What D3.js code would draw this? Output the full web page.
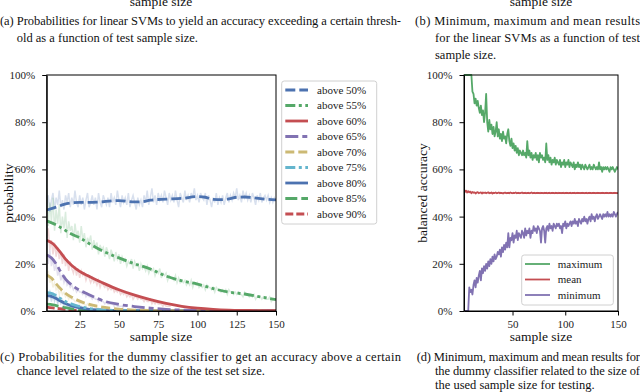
<!DOCTYPE html>
<html>
<head>
<meta charset="utf-8">
<title>SVM sample size</title>
<script src="https://d3js.org/d3.v7.min.js"></script>
<style>
  body { margin: 0; background: #fff; }
  svg text { font-family: "Liberation Serif", "Times New Roman", serif; }
  .axis text { font-size: 11px; fill: #222; font-family: "Liberation Serif", "Times New Roman", serif; }
  .axis path, .axis line { stroke: #000; stroke-width: 1; }
  .label { font-size: 13.5px; fill: #111; }
  .caption { font-size: 12.5px; fill: #111; }
  .legend text { font-size: 11px; fill: #222; }
</style>
</head>
<body>
<svg id="chart" width="640" height="392"></svg>
<script>
// ---- data ----
// sample sizes on the x axis
var sizes = d3.range(4, 151);
var yTicks = [0, 20, 40, 60, 80, 100];
var xTicksLeft = [25, 50, 75, 100, 125, 150];
var xTicksRight = [50, 100, 150];
var thresholds = ["above 50%", "above 55%", "above 60%", "above 65%", "above 70%",
                  "above 75%", "above 80%", "above 85%", "above 90%"];

// smoothed probability curves (%), each with its own sample sizes
var smX50 = [4, 10, 15, 20, 25, 30, 40, 50, 60, 65, 70, 80, 90, 100, 105, 110, 115, 120, 125, 130, 135, 140, 145, 150];
var sm50  = [42.8, 44, 45.2, 45.8, 46, 46, 46.3, 46.8, 46.2, 46.3, 47, 47.4, 47.7, 48.5, 48.2, 47.3, 47.2, 47.5, 48.2, 48.3, 48, 47.6, 47.3, 47.1];
var smX55 = [4, 10, 15, 20, 25, 30, 40, 50, 60, 70, 80, 90, 100, 110, 120, 130, 140, 150];
var sm55  = [38.2, 36.5, 34.5, 32.5, 31, 29, 25.3, 22.5, 20, 17.8, 14.8, 12.8, 11.4, 9.5, 8, 7.2, 6, 4.8];
var smX60 = [4, 8, 12, 16, 20, 25, 30, 35, 40, 50, 60, 70, 80, 90, 100, 110, 120, 130, 140, 150];
var sm60  = [30, 28.5, 25.5, 22, 19.3, 16.8, 15, 13.3, 11.8, 9, 6.7, 4.8, 3.2, 2, 1.2, 0.7, 0.4, 0.25, 0.15, 0.1];
var smX65 = [4, 7, 10, 13, 16, 20, 25, 30, 35, 40, 50, 60, 70, 80, 100, 120, 150];
var sm65  = [23.7, 22.5, 20, 16.5, 13.5, 11, 8.8, 7.2, 5.7, 4.3, 2.8, 1.9, 1.2, 0.7, 0.25, 0.1, 0.02];
var smX70 = [4, 7, 10, 13, 16, 20, 25, 30, 40, 50, 60, 80, 100, 150];
var sm70  = [15.3, 14, 11.5, 9.3, 7.5, 5.8, 4.2, 3, 1.6, 0.8, 0.4, 0.1, 0.04, 0];
var smX75 = [4, 7, 10, 13, 16, 20, 25, 30, 40, 50, 70, 100, 150];
var sm75  = [7.8, 7.5, 6.5, 5.2, 4, 2.9, 1.9, 1.2, 0.5, 0.2, 0.05, 0, 0];
var smX80 = [4, 7, 10, 13, 16, 20, 25, 30, 40, 50, 70, 100, 150];
var sm80  = [6.5, 6.2, 5.3, 4.2, 3.2, 2.2, 1.4, 0.8, 0.3, 0.1, 0.02, 0, 0];
var smX85 = [4, 8, 12, 16, 20, 25, 30, 40, 60, 100, 150];
var sm85  = [2.9, 2.6, 2, 1.4, 0.9, 0.5, 0.3, 0.1, 0, 0, 0];
var smX90 = [4, 8, 12, 16, 20, 30, 40, 60, 100, 150];
var sm90  = [1.6, 1.3, 1, 0.7, 0.4, 0.15, 0.05, 0, 0, 0];

// raw (noisy) probabilities (%), starting at sample size 4
var raw50 = [44,49,42,47,50,43,48,45,51,44, 47,43,49,46,50,44,48,45,51,46,
             44,49,45,48,43,47,50,44,46,49, 45,48,43,50,46,44,49,47,45,48,
             44,50,46,48,45,51,47,44,49,46, 48,45,50,44,47,49,46,43,48,45,
             47,44,49,46,51,45,48,52,46,49, 45,50,47,49,46,51,48,45,50,47,
             49,46,51,47,44,50,48,46,51,47, 49,46,50,48,52,47,49,46,50,48,
             47,50,45,49,47,44,48,46,50,45, 48,46,49,45,48,50,46,49,47,50,
             48,52,47,49,46,51,48,50,47,49, 46,50,48,45,49,47,50,46,48,49,
             47,49,46,48,46,48,47];
var raw55 = [52,36,46,38,48,34,43,37,45,33, 40,35,42,31,38,34,36,30,37,32,
             34,29,36,30,33,27,31,29,32,26, 30,27,29,24,28,26,27,23,27,25,
             22,26,24,21,25,22,24,20,23,21, 22,19,21,20,22,18,21,19,20,17,
             20,18,19,17,19,16,18,17,18,15, 17,16,18,14,16,15,16,13,15,14,
             14,13,15,12,14,12,13,12,13,11, 12,11,13,10,12,11,12,10,11,10,
             11,9,11,10,10,9,10,8,10,9, 9,8,9,8,9,7,9,8,8,7,
             8,7,8,7,7,6,8,7,7,6, 7,6,7,5,6,6,6,5,6,5,
             5,5,6,4,5,5,5];
var raw60 = [31,35,26,30,24,29,23,27,22,25, 20,24,19,22,17,21,18,16,19,15,
             18,14,17,15,16,13,15,14,12,14, 12,13,11,13,10,12,11,10,11,9,
             10,9,10,8,9,8,9,7,8,7, 8,6,7,6,7,5,6,6,5,6,
             5,5,4,5,4,4,5,3,4,3, 4,3,3,3,2,3,2,2,2,2];
var raw65 = [24,20,26,19,22,17,20,15,17,13, 15,12,14,11,12,10,11,9,10,8,
             9,8,8,7,8,6,7,6,6,5, 6,5,5,4,5,4,4,3,4,3,
             3,3,3,2,3,2,2,2,2,1];
var raw70 = [15,17,12,14,10,12,9,10,7,9, 7,8,6,7,5,6,5,5,4,4,
             4,3,4,3,3,2,3,2,2,2, 2,1,2,1,1,1,1,1,1,1];
var raw75 = [10,6,9,5,8,5,7,4,6,4, 5,3,4,3,3,2,3,2,2,2, 2,1,2,1,1,1,1,1,1,1];
var raw80 = [7,5,8,4,7,4,6,3,5,3, 4,2,3,2,2,2,2,1,2,1, 1,1,1,1,1,0,1,0,1,0];

// dummy classifier balanced accuracy (%), sample size 4..150
var maxAcc = [100,100,100,100,100,100,100,100,93,92, 88,90,87,89,86,84,87,83,85,80,
              84,92,80,76,81,77,79,75,78,74, 76,80,74,77,73,75,72,76,73,74,
              71,75,77,72,70,73,69,71,68,70, 67,69,66,68,67,66,68,66,67,65,
              72,66,68,65,67,64,66,65,67,64, 66,63,67,65,66,64,65,63,71,64,
              66,63,65,62,64,63,65,62,64,63, 62,64,61,63,62,64,61,63,62,64,
              61,63,62,61,63,60,62,61,63,61, 62,60,62,61,60,62,61,60,61,62,
              60,61,60,62,61,60,61,60,63,60, 61,59,61,60,61,60,61,60,59,61,
              60,61,60,59,60,61,60];
var meanAcc = [51.5,50.5,51,50.2,50.8,50.3,50.6,49.9,50.4,50.1, 50.3,49.8,50.2,50.4,49.9,50.1,50.3,49.8,50.2,50,
               50.2,49.9,50.1,50.3,49.9,50,50.2,49.8,50.1,50, 50.2,49.9,50,50.2,49.9,50.1,50,49.8,50.1,50.2,
               49.9,50,50.1,49.9,50.2,50,49.9,50.1,50,50.2, 49.9,50,50.1,49.9,50,50.2,49.9,50,50.1,49.9,
               50,50.1,49.9,50,50.2,49.9,50,50.1,49.9,50, 50.1,50,49.9,50.1,50,49.9,50.1,50,50.1,49.9,
               50,50.1,49.9,50,50.1,50,49.9,50.1,50,49.9, 50.1,50,49.9,50,50.1,49.9,50,50.1,50,49.9,
               50,50.1,49.9,50,50,50.1,49.9,50,50.1,50, 49.9,50,50.1,50,49.9,50,50.1,49.9,50,50.1,
               50,49.9,50,50.1,50,49.9,50,50.1,50,49.9, 50,50.1,50,49.9,50,50.1,50,49.9,50,50.1,
               50,49.9,50,50.1,50,49.9,50];
var minAcc = [0,0,0,0,0,10,8,9,7,11, 13,10,14,12,15,17,13,18,16,19,
              17,20,18,21,19,22,20,23,21,24, 22,23,25,24,26,23,27,25,28,26,
              29,27,33,27,31,30,33,29,32,31, 34,30,33,32,31,34,33,31,35,32,
              34,33,35,31,34,33,36,34,35,33, 36,35,34,29,35,36,34,29,35,36,
              34,37,35,36,34,37,36,35,37,36, 37,35,36,33,37,36,38,35,37,36,
              37,38,36,38,37,39,37,38,36,39, 38,37,39,38,40,38,39,37,39,40,
              38,41,39,40,38,40,41,39,40,41, 40,39,41,40,41,40,42,40,41,40,
              41,40,42,41,40,41,42];
var accNames = ["maximum", "mean", "minimum"];

// ---- styles ----
var blue = "#4C72B0", green = "#55A868", red = "#C44E52",
    purple = "#8172B2", yellow = "#CCB974", cyan = "#64B5CD";

var smooth = [
  { xs: smX50, ys: sm50, color: blue,   dash: "10,4" },
  { xs: smX55, ys: sm55, color: green,  dash: "10,3.5,3,3.5,3,3.5" },
  { xs: smX60, ys: sm60, color: red,    dash: null },
  { xs: smX65, ys: sm65, color: purple, dash: "13,4,5,4" },
  { xs: smX70, ys: sm70, color: yellow, dash: "9,4" },
  { xs: smX75, ys: sm75, color: cyan,   dash: "10,3.5,3,3.5,3,3.5" },
  { xs: smX80, ys: sm80, color: blue,   dash: null },
  { xs: smX85, ys: sm85, color: green,  dash: "12,4" },
  { xs: smX90, ys: sm90, color: red,    dash: "8,3" }
];
var raw = [
  { ys: raw50, color: blue }, { ys: raw55, color: green }, { ys: raw60, color: red },
  { ys: raw65, color: purple }, { ys: raw70, color: yellow }, { ys: raw75, color: cyan },
  { ys: raw80, color: blue }
];
var accLines = [
  { ys: maxAcc, color: green }, { ys: meanAcc, color: red }, { ys: minAcc, color: purple }
];

var svg = d3.select("#chart");
var pct = function(d) { return d + "%"; };

// ---- panel (c) ----
var xL = d3.scaleLinear().domain([4, 150]).range([46.7, 276]);
var yL = d3.scaleLinear().domain([0, 100]).range([311, 75]);

svg.append("clipPath").attr("id", "clipL")
  .append("rect").attr("x", 46.7).attr("y", 75).attr("width", 229.3).attr("height", 236);

var left = svg.append("g").attr("clip-path", "url(#clipL)");
raw.forEach(function(s) {
  left.append("path")
    .attr("d", d3.line().x(function(d, i) { return xL(sizes[i]); }).y(function(d) { return yL(d); })(s.ys))
    .attr("fill", "none").attr("stroke", s.color).attr("stroke-opacity", 0.22).attr("stroke-width", 1.5);
});
smooth.slice().reverse().forEach(function(s) {
  left.append("path")
    .attr("d", d3.line().curve(d3.curveMonotoneX)
      .x(function(d, i) { return xL(s.xs[i]); }).y(function(d) { return yL(d); })(s.ys))
    .attr("fill", "none").attr("stroke", s.color).attr("stroke-width", 2.8)
    .attr("stroke-dasharray", s.dash);
});

svg.append("g").attr("class", "axis").attr("transform", "translate(46.7,0)")
  .call(d3.axisLeft(yL).tickValues(yTicks).tickFormat(pct).tickSize(4.5).tickPadding(7).tickSizeOuter(0));
svg.append("g").attr("class", "axis").attr("transform", "translate(0,311)")
  .call(d3.axisBottom(xL).tickValues(xTicksLeft).tickSize(4.5).tickPadding(5).tickSizeOuter(0));
svg.append("rect").attr("x", 46.7).attr("y", 75).attr("width", 229.3).attr("height", 236)
  .attr("fill", "none").attr("stroke", "#000");

svg.append("text").attr("class", "label").attr("text-anchor", "middle")
  .attr("transform", "translate(12.5,193) rotate(-90)").text("probability");
svg.append("text").attr("class", "label").attr("text-anchor", "middle")
  .attr("x", 161).attr("y", 341).text("sample size");

// legend (c)
var legL = svg.append("g").attr("class", "legend");
legL.append("rect").attr("x", 281.7).attr("y", 81).attr("width", 95).attr("height", 143)
  .attr("rx", 2.5).attr("fill", "#fff").attr("stroke", "#d0d0d0");
thresholds.forEach(function(t, i) {
  var yy = 90 + i * 15.5;
  legL.append("line").attr("x1", 285.3).attr("x2", 308).attr("y1", yy).attr("y2", yy)
    .attr("stroke", smooth[i].color).attr("stroke-width", 2.8).attr("stroke-dasharray", smooth[i].dash);
  legL.append("text").attr("x", 317).attr("y", yy + 3.8).text(t);
});

// ---- panel (d) ----
var xR = d3.scaleLinear().domain([4, 150]).range([464, 618]);
var yR = d3.scaleLinear().domain([0, 100]).range([311, 75]);

svg.append("clipPath").attr("id", "clipR")
  .append("rect").attr("x", 464).attr("y", 74).attr("width", 154).attr("height", 237);
var right = svg.append("g").attr("clip-path", "url(#clipR)");
accLines.forEach(function(s) {
  right.append("path")
    .attr("d", d3.line().x(function(d, i) { return xR(sizes[i]); }).y(function(d) { return yR(d); })(s.ys))
    .attr("fill", "none").attr("stroke", s.color).attr("stroke-width", 1.8).attr("stroke-linejoin", "round");
});

svg.append("g").attr("class", "axis").attr("transform", "translate(464,0)")
  .call(d3.axisLeft(yR).tickValues(yTicks).tickFormat(pct).tickSize(4.5).tickPadding(7).tickSizeOuter(0));
svg.append("g").attr("class", "axis").attr("transform", "translate(0,311)")
  .call(d3.axisBottom(xR).tickValues(xTicksRight).tickSize(4.5).tickPadding(5).tickSizeOuter(0));
svg.append("rect").attr("x", 464).attr("y", 75).attr("width", 154).attr("height", 236)
  .attr("fill", "none").attr("stroke", "#000");

svg.append("text").attr("class", "label").attr("text-anchor", "middle")
  .attr("transform", "translate(427,193) rotate(-90)").text("balanced accuracy");
svg.append("text").attr("class", "label").attr("text-anchor", "middle")
  .attr("x", 541).attr("y", 341).text("sample size");

// legend (d)
var legR = svg.append("g").attr("class", "legend");
legR.append("rect").attr("x", 521.7).attr("y", 255).attr("width", 91.6).attr("height", 50)
  .attr("rx", 2.5).attr("fill", "#fff").attr("stroke", "#d0d0d0");
accNames.forEach(function(t, i) {
  var yy = 264 + i * 15.5;
  legR.append("line").attr("x1", 525).attr("x2", 550).attr("y1", yy).attr("y2", yy)
    .attr("stroke", accLines[i].color).attr("stroke-width", 1.8);
  legR.append("text").attr("x", 557.7).attr("y", yy + 3.8).text(t);
});

// ---- captions ----
// x-axis labels of the panels above, partly cut off by the page edge as in the source
svg.append("text").attr("class", "label").attr("text-anchor", "middle").attr("x", 161).attr("y", 6).text("sample size");
svg.append("text").attr("class", "label").attr("text-anchor", "middle").attr("x", 541).attr("y", 6).text("sample size");

var captions = [
  { x: 0,     y: 24.5,  text: "(a) Probabilities for linear SVMs to yield an accuracy exceeding a certain thresh-", w: 401 },
  { x: 16.7,  y: 41.5,  text: "old as a function of test sample size." },
  { x: 415,   y: 24.5,  text: "(b) Minimum, maximum and mean results", w: 225 },
  { x: 435,   y: 41.5,  text: "for the linear SVMs as a function of test", w: 205 },
  { x: 435,   y: 58.5,  text: "sample size." },
  { x: 0,     y: 360.5, text: "(c) Probabilities for the dummy classifier to get an accuracy above a certain", w: 401 },
  { x: 16.7,  y: 374.5, text: "chance level related to the size of the test set size." },
  { x: 416.7, y: 360.5, text: "(d) Minimum, maximum and mean results for", w: 223.3 },
  { x: 435,   y: 374.5, text: "the dummy classifier related to the size of", w: 205 },
  { x: 435,   y: 388.5, text: "the used sample size for testing." }
];
captions.forEach(function(c) {
  var t = svg.append("text").attr("class", "caption").attr("x", c.x).attr("y", c.y).text(c.text);
  if (c.w) t.attr("textLength", c.w).attr("lengthAdjust", "spacing");
});
</script>
</body>
</html>
